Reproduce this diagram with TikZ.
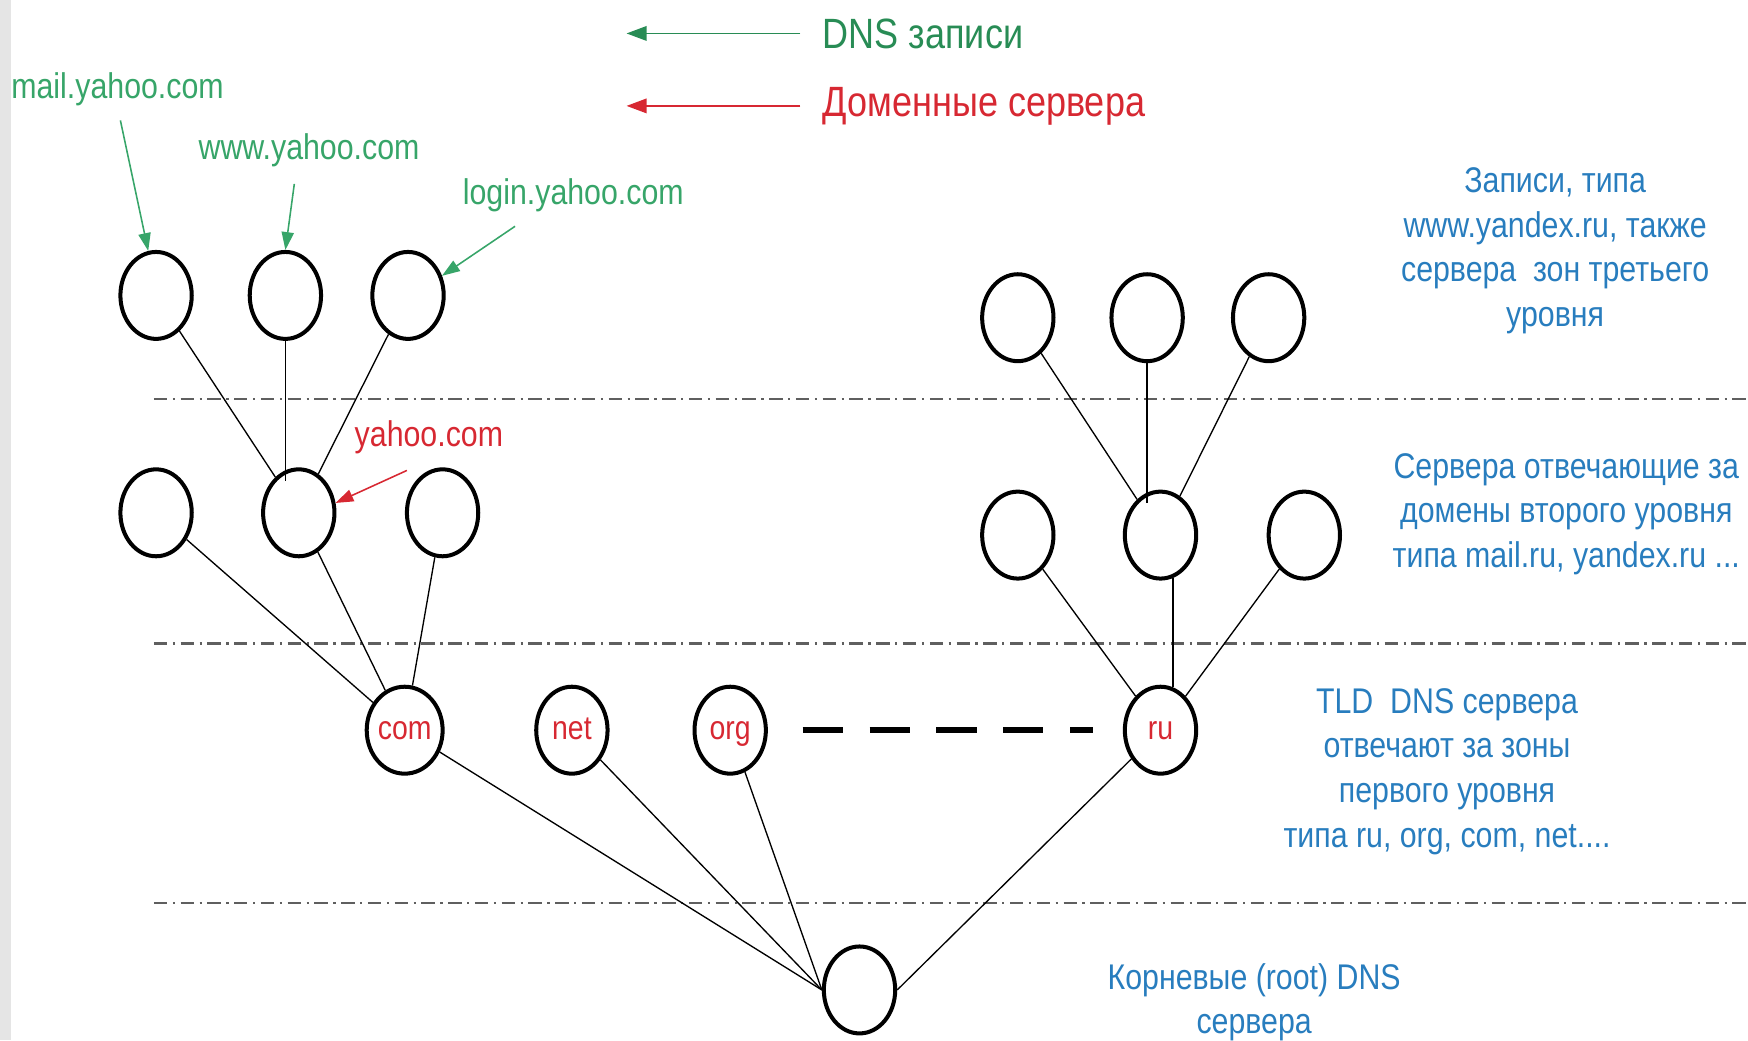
\documentclass[tikz,border=0pt]{standalone}
\usepackage{fontspec}
\setmainfont{Liberation Sans}[FakeStretch=0.85]
\usetikzlibrary{shapes.geometric,arrows.meta}
\definecolor{grn}{RGB}{55,165,105}
\definecolor{dgrn}{RGB}{40,140,85}
\definecolor{redc}{RGB}{215,40,50}
\definecolor{bluc}{RGB}{40,125,190}
\definecolor{sepc}{RGB}{95,95,95}
\newcommand{\tldtext}[1]{\raisebox{-6pt}{#1}}
\begin{document}
\begin{tikzpicture}[x=1pt,y=-1pt,
  srv/.style={ellipse,draw=black,line width=3.6pt,minimum width=64pt,minimum height=78pt,inner sep=0pt,
    text=redc,font=\fontsize{30}{32}\selectfont,text height=0.72em,text depth=0.2em},
  conn/.style={draw=black,line width=1.2pt},
  sep/.style={draw=sepc,line width=2.4pt,dash pattern=on 12pt off 5pt on 2pt off 5pt},
  garrow/.style={draw=grn,line width=1.4pt,-{Triangle[length=16pt,width=11pt]}},
  rarrow/.style={draw=redc,line width=1.4pt,-{Triangle[length=16pt,width=11pt]}},
  glabel/.style={text=grn,font=\fontsize{32}{34}\selectfont,inner sep=0pt},
  rlabel/.style={text=redc,font=\fontsize{32}{34}\selectfont,inner sep=0pt},
  desc/.style={text=bluc,font=\fontsize{32}{40}\selectfont,align=center,inner sep=0pt},
  legtext/.style={font=\fontsize{38}{40}\selectfont,anchor=west,inner sep=0pt}
]
\useasboundingbox (0,0) rectangle (1568,933);
\fill[black!10] (0,0) rectangle (10,933);

% legend
\coordinate (lgA) at (718,30);
\coordinate (lgAe) at (562,30);
\coordinate (lgB) at (718,95);
\coordinate (lgBe) at (562,95);
\draw[draw=dgrn,line width=1.6pt,-{Triangle[length=18pt,width=13pt]}] (lgA) -- (lgAe);
\draw[draw=redc,line width=1.6pt,-{Triangle[length=18pt,width=13pt]}] (lgB) -- (lgBe);
\node[legtext,text=dgrn] (lgAt) at (738,30) {DNS записи};
\node[legtext,text=redc] (lgBt) at (738,95) {Доменные сервера};

% separators
\coordinate (s1a) at (138,358); \coordinate (s1b) at (1568,358);
\coordinate (s2a) at (138,577); \coordinate (s2b) at (1568,577);
\coordinate (s3a) at (138,810); \coordinate (s3b) at (1568,810);
\draw[sep] (s1a) -- (s1b);
\draw[sep] (s2a) -- (s2b);
\draw[sep] (s3a) -- (s3b);

% left tree
\node[srv] (a1) at (140,265) {};
\node[srv] (a2) at (256,265) {};
\node[srv] (a3) at (366,265) {};
\node[srv] (b1) at (140,460) {};
\node[srv] (b2) at (268,460) {};
\node[srv] (b3) at (397,460) {};
% right tree
\node[srv] (c1) at (913,285) {};
\node[srv] (c2) at (1029,285) {};
\node[srv] (c3) at (1138,285) {};
\node[srv] (d1) at (913,480) {};
\node[srv] (d2) at (1041,480) {};
\node[srv] (d3) at (1170,480) {};
% TLD
\node[srv] (com) at (363,655) {\tldtext{com}};
\node[srv] (net) at (513,655) {\tldtext{net}};
\node[srv] (org) at (655,655) {\tldtext{org}};
\node[srv] (ru) at (1041,655) {\tldtext{ru}};
% root
\node[srv] (root) at (771,888) {};

% connectors
\draw[conn] (a1) -- (b2);
\draw[conn] (a2.south) -- (a2.south |- b2.north west);
\draw[conn] (a3) -- (b2);
\draw[conn] (b1) -- (com);
\draw[conn] (b2) -- (com);
\draw[conn] (b3) -- (com);
\draw[conn] (c1) -- (d2);
\draw[conn] (c2.south) -- (c2.south |- d2.north west);
\draw[conn] (c3) -- (d2);
\draw[conn] (d1) -- (ru);
\draw[conn] (d2.-74) -- (ru.74);
\draw[conn] (d3) -- (ru);
\draw[conn] (com) -- (root.west);
\draw[conn] (net) -- (root.west);
\draw[conn] (org) -- (root.west);
\draw[conn] (ru) -- (root.east);

\coordinate (dA) at (720,655); \coordinate (dB) at (980,655);
\draw[line width=5pt,dash pattern=on 36pt off 24pt] (dA) -- (dB);

% green labels
\node[glabel,anchor=west] (mail) at (10,80) {mail.yahoo.com};
\node[glabel,anchor=west] (www) at (178,135) {www.yahoo.com};
\node[glabel,anchor=west] (login) at (415,175) {login.yahoo.com};
\coordinate (mailS) at (108,108);
\coordinate (wwwS) at (264,165);
\coordinate (loginS) at (462,203);
\draw[garrow] (mailS) -- (a1.100);
\draw[garrow] (wwwS) -- (a2.north);
\draw[garrow] (loginS) -- (a3.30);

% red label
\node[rlabel,anchor=west] (yahoo) at (318,392) {yahoo.com};
\coordinate (yahooS) at (365,422);
\draw[rarrow] (yahooS) -- (b2.15);

% descriptions
\node[desc] (t3) at (1395,225) {Записи, типа\\www.yandex.ru, также\\сервера\ \ зон третьего\\уровня};
\node[desc] (t2) at (1405,461) {Сервера отвечающие за\\домены второго уровня\\типа mail.ru, yandex.ru ...};
\node[desc] (t1) at (1298,692) {TLD\ \ DNS сервера\\отвечают за зоны\\первого уровня\\типа ru, org, com, net....};
\node[desc] (t0) at (1125,899) {Корневые (root) DNS\\сервера};
\end{tikzpicture}
\end{document}
